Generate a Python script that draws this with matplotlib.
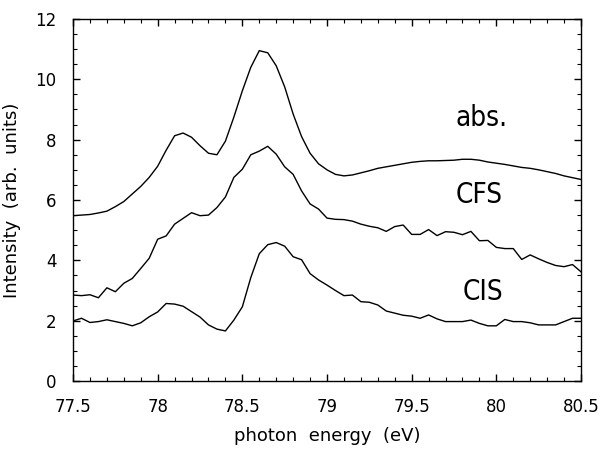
import matplotlib
matplotlib.use('Agg')
import matplotlib.pyplot as plt
from matplotlib.ticker import MultipleLocator

# photon energy grid (eV)
energy = [77.5, 77.55, 77.6, 77.65, 77.7, 77.75, 77.8, 77.85, 77.9, 77.95,
          78.0, 78.05, 78.1, 78.15, 78.2, 78.25, 78.3, 78.35, 78.4, 78.45,
          78.5, 78.55, 78.6, 78.65, 78.7, 78.75, 78.8, 78.85, 78.9, 78.95,
          79.0, 79.05, 79.1, 79.15, 79.2, 79.25, 79.3, 79.35, 79.4, 79.45,
          79.5, 79.55, 79.6, 79.65, 79.7, 79.75, 79.8, 79.85, 79.9, 79.95,
          80.0, 80.05, 80.1, 80.15, 80.2, 80.25, 80.3, 80.35, 80.4, 80.45,
          80.5]

absorption = [5.48, 5.50, 5.52, 5.57, 5.63, 5.78, 5.95, 6.20, 6.45, 6.75,
              7.12, 7.65, 8.13, 8.22, 8.08, 7.80, 7.55, 7.50, 7.95, 8.75,
              9.62, 10.40, 10.95, 10.88, 10.45, 9.75, 8.85, 8.10, 7.55, 7.20,
              7.00, 6.85, 6.80, 6.83, 6.90, 6.97, 7.05, 7.10, 7.15, 7.20,
              7.25, 7.28, 7.30, 7.30, 7.31, 7.32, 7.35, 7.35, 7.32, 7.26,
              7.22, 7.18, 7.13, 7.08, 7.05, 7.00, 6.94, 6.88, 6.80, 6.74,
              6.68]

cfs = [2.85, 2.83, 2.86, 2.76, 3.09, 2.96, 3.24, 3.40, 3.73, 4.07,
       4.70, 4.81, 5.20, 5.39, 5.58, 5.48, 5.50, 5.75, 6.10, 6.75,
       7.02, 7.50, 7.62, 7.78, 7.52, 7.10, 6.85, 6.30, 5.87, 5.70,
       5.40, 5.36, 5.35, 5.30, 5.20, 5.13, 5.08, 4.96, 5.12, 5.17,
       4.86, 4.86, 5.02, 4.82, 4.95, 4.93, 4.85, 4.96, 4.65, 4.66,
       4.43, 4.39, 4.39, 4.03, 4.18, 4.05, 3.93, 3.83, 3.79, 3.86,
       3.62]

cis = [1.99, 2.08, 1.94, 1.97, 2.03, 1.97, 1.91, 1.83, 1.93, 2.13,
       2.29, 2.57, 2.55, 2.48, 2.30, 2.12, 1.86, 1.72, 1.66, 2.02,
       2.46, 3.43, 4.22, 4.52, 4.59, 4.47, 4.12, 4.02, 3.56, 3.35,
       3.18, 3.00, 2.83, 2.85, 2.63, 2.61, 2.52, 2.32, 2.25, 2.18,
       2.15, 2.08, 2.19, 2.06, 1.97, 1.97, 1.97, 2.02, 1.91, 1.83,
       1.83, 2.04, 1.97, 1.97, 1.93, 1.86, 1.86, 1.86, 1.97, 2.08,
       2.08]

labels = ['abs.', 'CFS', 'CIS']
label_pos = [(79.91, 8.72), (79.90, 6.17), (79.92, 2.95)]

fig = plt.figure(figsize=(6.01, 4.49), dpi=100)
ax = fig.add_axes([0.1215, 0.1514, 0.8452, 0.8063])

for series in (absorption, cfs, cis):
    ax.plot(energy, series, color='black', lw=1.0)

for text, (x, y) in zip(labels, label_pos):
    ax.text(x, y, text, ha='center', va='center', fontsize=20,
            family='DejaVu Sans', stretch='condensed')

ax.set_xlim(77.5, 80.5)
ax.set_ylim(0, 12)
ax.xaxis.set_major_locator(MultipleLocator(0.5))
ax.xaxis.set_minor_locator(MultipleLocator(0.1))
ax.yaxis.set_major_locator(MultipleLocator(2))
ax.yaxis.set_minor_locator(MultipleLocator(0.5))
ax.set_xticks([77.5, 78, 78.5, 79, 79.5, 80, 80.5])
ax.set_xticklabels(['77.5', '78', '78.5', '79', '79.5', '80', '80.5'])
ax.tick_params(which='both', direction='in', top=True, right=True)
ax.tick_params(which='major', length=5, width=1, labelsize=12, pad=12)
ax.tick_params(which='minor', length=3, width=0.8)
for sp in ax.spines.values():
    sp.set_linewidth(1.0)

ax.set_xlabel('photon  energy  (eV)', fontsize=13, labelpad=8)
ax.set_ylabel('Intensity  (arb.  units)', fontsize=13, labelpad=10)

fig.savefig('out.png', dpi=100)
